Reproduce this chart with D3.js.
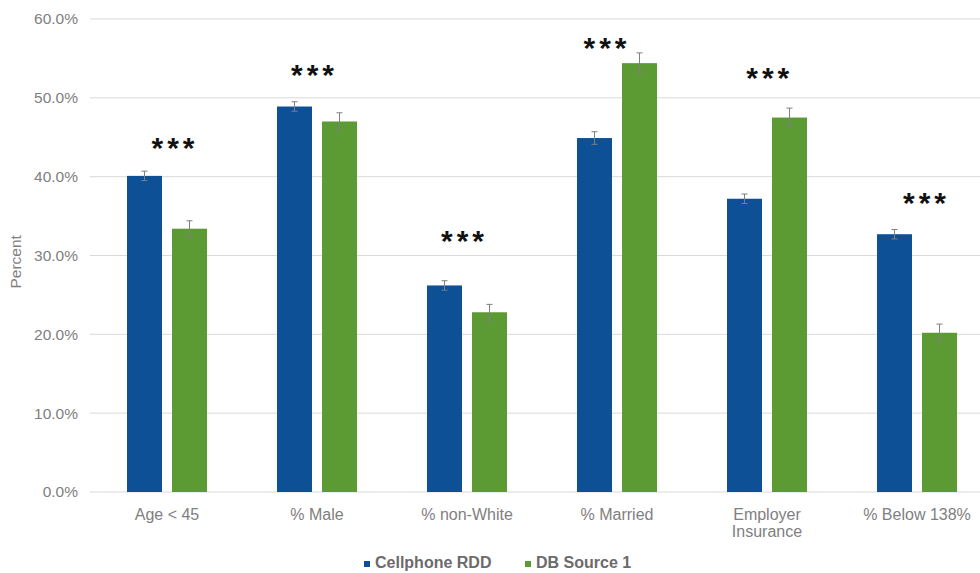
<!DOCTYPE html>
<html>
<head>
<meta charset="utf-8">
<script src="https://cdn.jsdelivr.net/npm/d3@7"></script>
<style>
  html, body { margin: 0; padding: 0; background: #fff; }
  svg { display: block; font-family: "Liberation Sans", Arial, sans-serif; }
</style>
</head>
<body>
<svg id="chart" width="980" height="573"></svg>
<script>
// Category labels (multi-line labels split on "\n")
const categories = ["Age < 45", "% Male", "% non-White", "% Married", "Employer\nInsurance", "% Below 138%"];
const seriesNames = ["Cellphone RDD", "DB Source 1"];
// Percent values per series
const cellphoneValues = [40.1, 48.9, 26.2, 44.9, 37.2, 32.7];
const dbSourceValues = [33.4, 47.0, 22.8, 54.4, 47.5, 20.2];
// Error bar half-widths (percentage points)
const cellphoneErrors = [0.6, 0.6, 0.6, 0.8, 0.6, 0.6];
const dbSourceErrors = [1.0, 1.1, 1.0, 1.3, 1.2, 1.1];
// Significance markers and the level (percent) at which each is placed
const sigLabels = ["***", "***", "***", "***", "***", "***"];
const sigLevels = [44.0, 53.3, 32.2, 56.7, 52.9, 37.1];
const yTicks = [0, 10, 20, 30, 40, 50, 60];

const colors = ["#0d5096", "#5c9b33"];
const svg = d3.select("#chart");
const margin = { left: 92, right: -12, top: 19, bottom: 81 };
const W = 980, H = 573;

const x = d3.scaleBand().domain(categories).range([margin.left, W - margin.right]).paddingInner(0).paddingOuter(0);
const y = d3.scaleLinear().domain([0, 60]).range([H - margin.bottom, margin.top]);
const barW = 35, barGap = 10;
// hand-placed horizontal nudges of the star markers, as a fraction of the band
const sigNudge = [0.04, -0.03, -0.03, -0.08, 0.005, 0.05];

// Gridlines
svg.append("g").selectAll("line").data(yTicks).join("line")
  .attr("x1", margin.left - 2).attr("x2", W)
  .attr("y1", d => y(d)).attr("y2", d => y(d))
  .attr("stroke", "#d9d9d9").attr("stroke-width", 1);

// Y axis labels
const yAxis = d3.axisLeft(y).tickValues(yTicks).tickSize(0).tickPadding(14)
  .tickFormat(d => d.toFixed(1) + "%");
const gy = svg.append("g").attr("transform", `translate(${margin.left},0)`).call(yAxis);
gy.select(".domain").remove();
gy.selectAll("text").attr("fill", "#808080").style("font-size", "15.5px")
  .style("font-family", "'Liberation Sans', Arial, sans-serif");

// Y axis title
svg.append("text")
  .attr("transform", `translate(21,${y(29.2)}) rotate(-90)`)
  .attr("text-anchor", "middle").attr("fill", "#808080").style("font-size", "15.5px")
  .text("Percent");

const series = [
  { name: seriesNames[0], values: cellphoneValues, errors: cellphoneErrors, color: colors[0], offset: -(barGap / 2 + barW) },
  { name: seriesNames[1], values: dbSourceValues, errors: dbSourceErrors, color: colors[1], offset: barGap / 2 }
];

const cx = c => x(c) + x.bandwidth() / 2;

series.forEach(s => {
  const rows = categories.map((c, i) => ({ c, v: s.values[i], e: s.errors[i] }));
  svg.append("g").selectAll("rect").data(rows).join("rect")
    .attr("x", d => cx(d.c) + s.offset)
    .attr("y", d => y(d.v))
    .attr("width", barW)
    .attr("height", d => y(0) - y(d.v))
    .attr("fill", s.color);
  // error bars
  const eb = svg.append("g").attr("stroke", "#7f7f7f").attr("stroke-width", 1);
  eb.selectAll("line.v").data(rows).join("line").attr("class", "v")
    .attr("x1", d => cx(d.c) + s.offset + barW / 2).attr("x2", d => cx(d.c) + s.offset + barW / 2)
    .attr("y1", d => y(d.v - d.e)).attr("y2", d => y(d.v + d.e));
  ["top", "bot"].forEach(k => {
    eb.selectAll("line." + k).data(rows).join("line").attr("class", k)
      .attr("x1", d => cx(d.c) + s.offset + barW / 2 - 3).attr("x2", d => cx(d.c) + s.offset + barW / 2 + 3)
      .attr("y1", d => y(k === "top" ? d.v + d.e : d.v - d.e))
      .attr("y2", d => y(k === "top" ? d.v + d.e : d.v - d.e));
  });
});

// Significance stars
svg.append("g").selectAll("text").data(categories).join("text")
  .attr("x", (c, i) => cx(c) + sigNudge[i] * x.bandwidth() + 2)
  .attr("y", (c, i) => y(sigLevels[i]) + 13)
  .attr("text-anchor", "middle")
  .attr("fill", "#111")
  .style("font-size", "30px").style("font-weight", "bold")
  .style("letter-spacing", "4px")
  .text((c, i) => sigLabels[i]);

// Category labels
const xl = svg.append("g").selectAll("text").data(categories).join("text")
  .attr("x", c => cx(c))
  .attr("y", y(0) + 28)
  .attr("text-anchor", "middle")
  .attr("fill", "#808080").style("font-size", "16px");
xl.each(function(c) {
  const lines = c.split("\n");
  d3.select(this).selectAll("tspan").data(lines).join("tspan")
    .attr("x", cx(c)).attr("dy", (d, i) => i === 0 ? 0 : 17).text(d => d);
});

// Legend
const legend = svg.append("g").attr("transform", `translate(0,${H - 5})`);
const legendX = [364, 525];
series.forEach((s, i) => {
  legend.append("rect").attr("x", legendX[i]).attr("y", -7).attr("width", 6).attr("height", 6).attr("fill", s.color);
  legend.append("text").attr("x", legendX[i] + 11).attr("y", 0)
    .attr("fill", "#6b6b6b").style("font-size", "16px").style("font-weight", "bold")
    .text(s.name);
});
</script>
</body>
</html>
